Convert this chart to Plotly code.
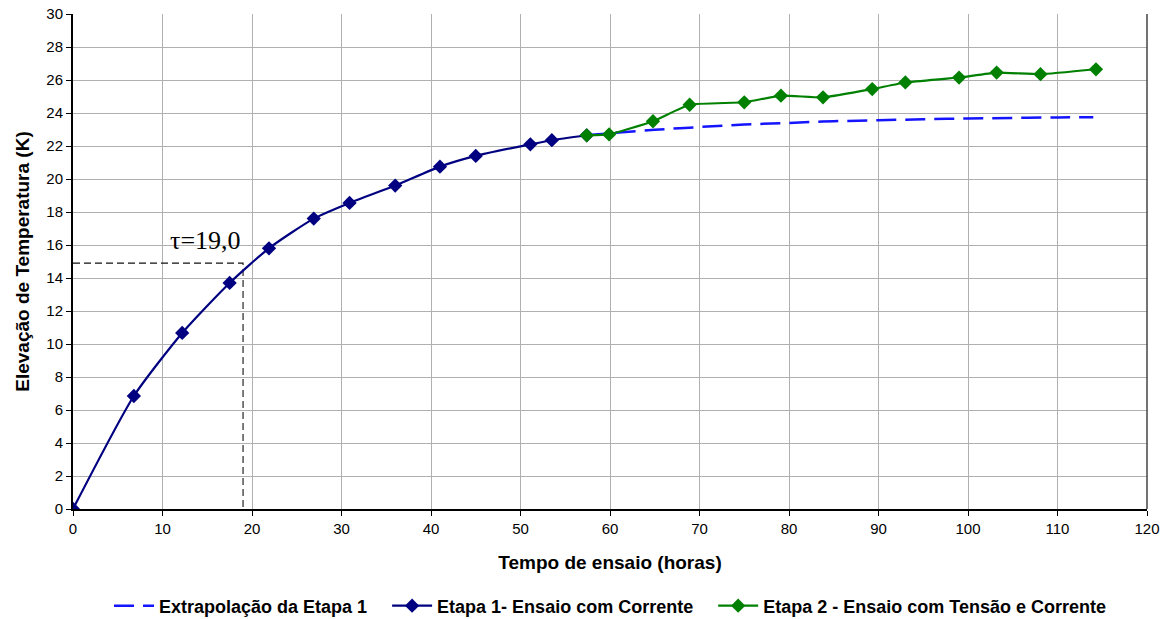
import plotly.graph_objects as go

# Etapa 1 - ensaio com corrente
t_etapa1 = [0, 6.8, 12.2, 17.5, 21.9, 26.9, 30.9, 36.0, 41.0, 45.0, 51.1, 53.5, 57.4]
dT_etapa1 = [0, 6.85, 10.67, 13.7, 15.8, 17.6, 18.55, 19.6, 20.75, 21.4, 22.1, 22.35, 22.65]

# Etapa 2 - ensaio com tensão e corrente
t_etapa2 = [57.4, 59.9, 64.8, 68.9, 75.0, 79.1, 83.8, 89.3, 93.0, 99.0, 103.2, 108.1, 114.3]
dT_etapa2 = [22.65, 22.7, 23.5, 24.5, 24.65, 25.05, 24.95, 25.45, 25.85, 26.15, 26.45, 26.35, 26.65]

# Extrapolação da etapa 1
t_extrap = [57.4, 60, 65, 70, 75, 80, 85, 90, 95, 100, 105, 110, 114]
dT_extrap = [22.65, 22.78, 22.98, 23.15, 23.3, 23.4, 23.5, 23.56, 23.62, 23.67, 23.7, 23.73, 23.75]

# Constante de tempo
tau = 19.0
dT_tau = 14.9

x_ticks = list(range(0, 121, 10))
y_ticks = list(range(0, 31, 2))

fig = go.Figure()

# Linhas de referência da constante de tempo
fig.add_trace(go.Scatter(x=[0, tau, tau], y=[dT_tau, dT_tau, 0], mode="lines",
                         line=dict(color="#111111", width=1.1, dash="7px,4px"),
                         showlegend=False, hoverinfo="skip"))

fig.add_trace(go.Scatter(x=t_extrap, y=dT_extrap, mode="lines",
                         name="Extrapolação da Etapa 1&nbsp;&nbsp;&nbsp;",
                         line=dict(color="#1414ff", width=2.5, dash="20px,9px", shape="spline")))
fig.add_trace(go.Scatter(x=t_etapa1, y=dT_etapa1, mode="lines+markers",
                         name="Etapa 1- Ensaio com Corrente&nbsp;&nbsp;&nbsp;",
                         line=dict(color="#000080", width=2.2, shape="spline", smoothing=0.6),
                         marker=dict(symbol="diamond", size=11, color="#000080")))
fig.add_trace(go.Scatter(x=t_etapa2, y=dT_etapa2, mode="lines+markers",
                         name="Etapa 2 - Ensaio com Tensão e Corrente",
                         line=dict(color="#008000", width=2.2, shape="spline", smoothing=0.4),
                         marker=dict(symbol="diamond", size=11, color="#008000")))

fig.add_annotation(x=tau, y=dT_tau + 0.35, text="τ=19,0", showarrow=False,
                   xanchor="right", yanchor="bottom", xshift=0,
                   font=dict(family="Liberation Serif, Times New Roman, serif", size=26, color="black"))

fig.update_layout(
    width=1171, height=619,
    margin=dict(l=73, r=24, t=14, b=110),
    paper_bgcolor="white", plot_bgcolor="white",
    font=dict(family="Liberation Sans, Arial, sans-serif", size=14, color="black"),
    legend=dict(orientation="h", x=0.5, xanchor="center",
                yref="container", y=0.021, yanchor="middle",
                font=dict(family="Liberation Sans, Arial", size=18, weight="bold"),
                itemwidth=40, tracegroupgap=0),
)
fig.update_xaxes(range=[0, 120], tickvals=x_ticks, showgrid=True, gridcolor="#b0b0b0", gridwidth=1.2,
                 showline=True, linecolor="black", linewidth=2, mirror=False, automargin=False,
                 ticks="outside", ticklen=5, tickcolor="black", zeroline=False,
                 tickfont=dict(size=15),
                 title=dict(text="<b>Tempo de ensaio (horas)</b>", standoff=20,
                            font=dict(size=19)))
fig.update_yaxes(range=[0, 30], tickvals=y_ticks, showgrid=True, gridcolor="#b0b0b0", gridwidth=1.2,
                 showline=True, linecolor="black", linewidth=2, mirror=False, automargin=False,
                 ticks="outside", ticklen=5, tickcolor="black", zeroline=False,
                 tickfont=dict(size=15),
                 title=dict(text="<b>Elevação de Temperatura (K)</b>", standoff=12,
                            font=dict(size=19)))

# Borda direita da área do gráfico
fig.add_shape(type="line", xref="paper", yref="paper", x0=1, x1=1, y0=0, y1=1,
              line=dict(color="#444444", width=1.5))

fig.write_html("out.html")
